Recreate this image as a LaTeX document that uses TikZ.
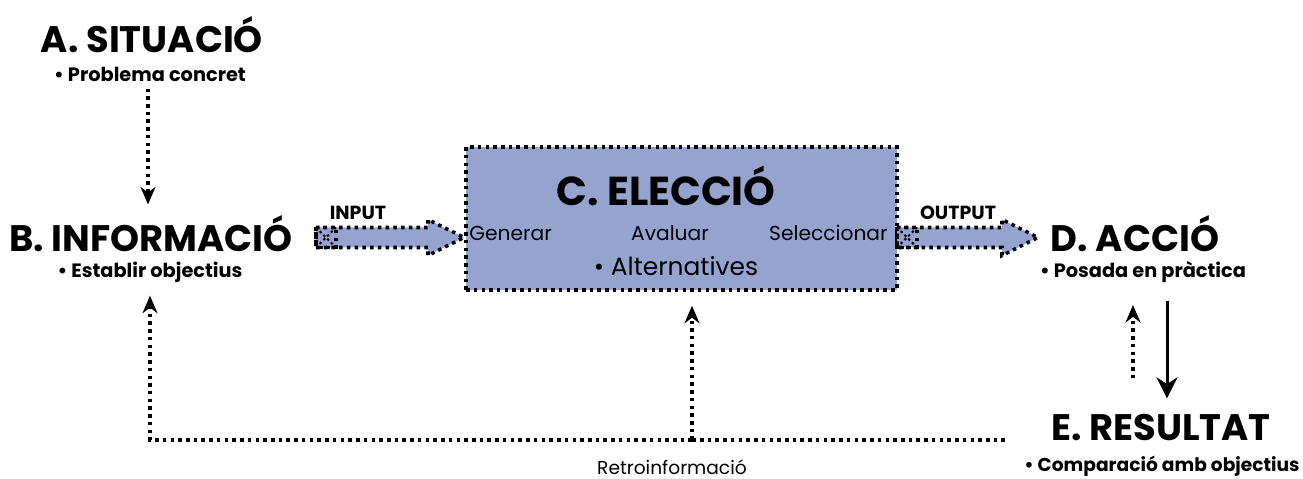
\documentclass[tikz,border=0pt]{standalone}
\usepackage{fontspec}
\setmainfont{Poppins}
\usetikzlibrary{arrows.meta,calc}
\definecolor{boxblue}{RGB}{149,163,207}
% fat block arrow from #1 (tail) to #2 (tip), both on one horizontal line
\newcommand\fatarrow[2]{%
  \draw[dots, fill=boxblue]
    ($(#1)+(0,-10)$) -- ($(#2)+(-36,-10)$) -- ($(#2)+(-36,-18)$) --
    (#2) -- ($(#2)+(-36,18)$) -- ($(#2)+(-36,10)$) -- ($(#1)+(0,10)$) -- cycle;
  \draw[dots] ($(#1)+(0,-10)$) rectangle ($(#1)+(20,10)$);
  \draw[fine dots] ($(#1)+(0,-10)$) -- ($(#1)+(20,10)$)
                   ($(#1)+(0,10)$) -- ($(#1)+(20,-10)$);
}
\begin{document}
\begin{tikzpicture}[x=0.02cm,y=-0.02cm,
  title/.style={font=\bfseries\fontsize{21}{24}\selectfont, inner sep=0},
  sub/.style={font=\bfseries\fontsize{11}{13}\selectfont, inner sep=0},
  plain/.style={font=\fontsize{11.5}{13}\selectfont, inner sep=0},
  tag/.style={font=\bfseries\fontsize{10.8}{12}\selectfont, inner sep=0},
  dots/.style={line width=2pt, dash pattern=on 2pt off 2.4pt},
  fine dots/.style={line width=1.2pt, dash pattern=on 1.4pt off 1.6pt},
  dotarrow/.style={dots, -{Stealth[length=10pt, width=8.5pt]}},
  solidarrow/.style={line width=1.7pt, -{Stealth[length=12pt, width=12pt]}}
]
\useasboundingbox (0,0) rectangle (1303,479);

% A: situation
\node[title] (A) at (152,35) {A. SITUACIÓ};
\node[sub] (Asub) at (150,74) {• Problema concret};

% B: information
\node[title] (B) at (151,234) {B. INFORMACIÓ};
\node[sub] (Bsub) at (150,272) {• Establir objectius};

% C: choice box
\node[draw, dots, fill=boxblue, minimum width=8.62cm, minimum height=2.86cm,
      inner sep=0] (C) at (681.5,218.5) {};
\node[title, font=\bfseries\fontsize{23}{26}\selectfont] (Ct) at (666,186) {C. ELECCIÓ};
\node[plain, anchor=west] (gen) at (469,233) {Generar};
\node[plain] (aval) at (670,233) {Avaluar};
\node[plain, anchor=east] (sel) at (888,233) {Seleccionar};
\node[plain, font=\fontsize{14.2}{16}\selectfont] (alt) at (676,266) {• Alternatives};

% D: action
\node[title] (D) at (1135,234) {D. ACCIÓ};
\node[sub] (Dsub) at (1143,272) {• Posada en pràctica};

% E: result
\node[title] (E) at (1161,428) {E. RESULTAT};
\node[sub, font=\bfseries\fontsize{10.6}{12}\selectfont] (Esub) at (1162,466) {• Comparació amb objectius};

% input / output block arrows
\coordinate (inTail) at (316,237.5);
\coordinate (inTip) at (464,237.5);
\coordinate (outTail) at (897,237.5);
\coordinate (outTip) at (1038,237.5);
\fatarrow{inTail}{inTip}
\fatarrow{outTail}{outTip}
\node[tag] (inlab) at (358,213) {INPUT};
\node[tag] (outlab) at (958,213) {OUTPUT};

% A to B
\draw[dotarrow] ($(Asub.south)+(-2,7)$) -- ($(B.north -| Asub.south)+(-2,-11)$);

% D and E
\draw[dotarrow] ($(E.north)+(-28,-36)$) -- ($(Dsub.south)+(-10,22)$);
\draw[solidarrow] ($(Dsub.south)+(24,18)$) -- ($(E.north)+(6,-16)$);

% feedback
\coordinate (fb) at (1005,440);
\coordinate (fbmid) at (692,440);
\draw[dots] (fb) -- (fbmid);
\draw[dotarrow] (fbmid) -| ($(Bsub.south)+(0,13)$);
\draw[dotarrow] (fbmid) -- ($(C.south -| fbmid)+(0,14)$);
\node[plain, font=\fontsize{10.6}{12}\selectfont] (retro) at (672,467) {Retroinformació};
\end{tikzpicture}
\end{document}
